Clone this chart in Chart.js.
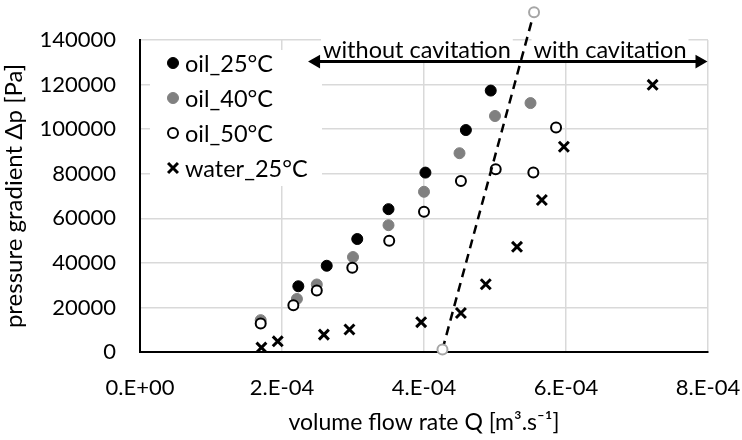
<!DOCTYPE html>
<html>
<head>
<meta charset="utf-8">
<script src="https://cdn.jsdelivr.net/npm/chart.js@4.4.1/dist/chart.umd.min.js"></script>
<style>
  html, body { margin: 0; padding: 0; background: #fff; }
</style>
</head>
<body>
<canvas id="myChart" width="742" height="440"></canvas>
<script>
// values (Q in m3/s, dp in Pa)
const oil25Q = [2.23e-4, 2.63e-4, 3.06e-4, 3.50e-4, 4.02e-4, 4.59e-4, 4.94e-4]
const oil25P = [29500, 38700, 50700, 64100, 80500, 99600, 117300]
const oil40Q = [1.70e-4, 2.21e-4, 2.49e-4, 3.00e-4, 3.50e-4, 4.00e-4, 4.50e-4, 5.00e-4, 5.50e-4]
const oil40P = [14300, 23800, 30300, 42600, 56900, 71900, 89200, 105900, 111700]
const oil50Q = [1.70e-4, 2.16e-4, 2.49e-4, 2.99e-4, 3.51e-4, 4.00e-4, 4.52e-4, 5.01e-4, 5.54e-4, 5.86e-4]
const oil50P = [12800, 21000, 27600, 37800, 49900, 62900, 76700, 82000, 80500, 100700]
const waterQ = [1.71e-4, 1.94e-4, 2.59e-4, 2.95e-4, 3.96e-4, 4.52e-4, 4.87e-4, 5.31e-4, 5.66e-4, 5.97e-4, 7.22e-4]
const waterP = [2000, 4800, 7800, 10100, 13400, 17500, 30400, 47200, 68200, 92100, 119900]
// cavitation boundary (dashed line)
const boundaryQ = [4.26e-4, 5.55e-4]
const boundaryP = [1100, 152400]
// double arrow + region labels
const arrowQ = [2.48e-4, 7.88e-4]
const arrowP = [130300, 130300]
const regionLabels = ['without cavitation', 'with cavitation']
const regionQ = [3.90e-4, 6.62e-4]
const regionP = [135400, 135400]
const xTicks = [0, 2e-4, 4e-4, 6e-4, 8e-4]
const yTicks = [0, 20000, 40000, 60000, 80000, 100000, 120000, 140000]

const FONT = 'Lato, "Open Sans", sans-serif'

function pts(xs, ys) {
    return xs.map((x, i) => ({x: x, y: ys[i]}))
}

function sciLabel(v) {
    if (Math.abs(v) < 1e-12) return '0.E+00'
    let e = Math.floor(Math.log10(Math.abs(v)) + 1e-9)
    let m = Math.round(v / Math.pow(10, e))
    if (m >= 10) { m = m / 10; e++ }
    return m + '.E' + (e < 0 ? '-' : '+') + String(Math.abs(e)).padStart(2, '0')
}

function marker(ctx, d, x, y) {
    ctx.fillStyle = d.pointBackgroundColor
    ctx.strokeStyle = d.pointBorderColor
    ctx.lineWidth = d.pointBorderWidth
    Chart.helpers.drawPoint(ctx, {pointStyle: d.pointStyle, rotation: 0, radius: d.pointRadius, borderWidth: d.pointBorderWidth}, x, y)
}

// white-boxed texts and legend, drawn over the grid but under the marks
const overlayPlugin = {
    id: 'overlay',
    beforeDatasetsDraw(chart) {
        const ctx = chart.ctx
        const xs = chart.scales.x, ys = chart.scales.y
        ctx.save()
        ctx.font = '23.5px ' + FONT
        ctx.textBaseline = 'middle'
        ctx.textAlign = 'center'
        regionLabels.forEach((t, i) => {
            const px = xs.getPixelForValue(regionQ[i])
            const py = ys.getPixelForValue(regionP[i])
            const w = ctx.measureText(t).width
            ctx.fillStyle = '#fff'
            ctx.fillRect(px - w / 2 - 2, py - 12, w + 4, 22)
            ctx.fillStyle = '#000'
            ctx.fillText(t, px, py)
        })

        // legend box
        const area = chart.chartArea
        const items = chart.data.datasets.filter(d => d.inLegend).sort((a, b) => b.order - a.order)
        const bx = area.left + 10, by = area.top + 10
        ctx.fillStyle = '#fff'
        ctx.fillRect(bx, by, 172, 136)
        ctx.textAlign = 'left'
        ctx.font = '23.5px ' + FONT
        items.forEach((d, i) => {
            const cy = by + 13 + i * 35
            const cx = bx + 23
            marker(ctx, d, cx, cy)
            ctx.fillStyle = '#000'
            ctx.fillText(d.label, cx + 12, cy + 1)
        })
        ctx.restore()
    },
    // Chart.js skips points outside the chart area; draw those of unclipped sets here
    afterDatasetsDraw(chart) {
        const ctx = chart.ctx
        const area = chart.chartArea
        ctx.save()
        chart.data.datasets.forEach((d, i) => {
            if (d.clip !== false) return
            chart.getDatasetMeta(i).data.forEach(p => {
                if (p.y < area.top || p.y > area.bottom || p.x < area.left || p.x > area.right) {
                    marker(ctx, d, p.x, p.y)
                }
            })
        })
        ctx.restore()
    }
}

const chart = new Chart(document.getElementById('myChart').getContext('2d'), {
    type: 'scatter',
    data: {
        datasets: [
            {
                label: 'cavitation boundary',
                type: 'line',
                data: pts(boundaryQ, boundaryP),
                borderColor: '#000',
                borderWidth: 2.5,
                borderDash: [9, 6],
                pointStyle: 'circle',
                pointRadius: 5,
                pointBackgroundColor: '#fff',
                pointBorderColor: '#a6a6a6',
                pointBorderWidth: 2,
                clip: false,
                order: 0
            },
            {
                label: 'arrow',
                type: 'line',
                data: pts(arrowQ, arrowP),
                borderColor: '#000',
                borderWidth: 3,
                pointStyle: 'triangle',
                pointRotation: [-90, 90],
                pointRadius: 8,
                pointBackgroundColor: '#000',
                pointBorderColor: '#000',
                pointBorderWidth: 0,
                order: 0
            },
            {
                label: 'water_25°C',
                inLegend: true,
                data: pts(waterQ, waterP),
                pointStyle: 'crossRot',
                pointRadius: 7,
                pointBackgroundColor: '#000',
                pointBorderColor: '#000',
                pointBorderWidth: 3,
                order: 1
            },
            {
                label: 'oil_50°C',
                inLegend: true,
                data: pts(oil50Q, oil50P),
                pointStyle: 'circle',
                pointRadius: 5,
                pointBackgroundColor: '#fff',
                pointBorderColor: '#000',
                pointBorderWidth: 2,
                order: 2
            },
            {
                label: 'oil_40°C',
                inLegend: true,
                data: pts(oil40Q, oil40P),
                pointStyle: 'circle',
                pointRadius: 5.5,
                pointBackgroundColor: '#808080',
                pointBorderColor: '#808080',
                pointBorderWidth: 1,
                order: 3
            },
            {
                label: 'oil_25°C',
                inLegend: true,
                data: pts(oil25Q, oil25P),
                pointStyle: 'circle',
                pointRadius: 5.5,
                pointBackgroundColor: '#000',
                pointBorderColor: '#000',
                pointBorderWidth: 1,
                order: 4
            }
        ]
    },
    options: {
        responsive: false,
        animation: false,
        devicePixelRatio: 1,
        layout: { padding: { top: 40, right: 34, left: 0, bottom: 0 } },
        plugins: {
            legend: { display: false },
            tooltip: { enabled: false }
        },
        scales: {
            x: {
                type: 'linear',
                min: 0,
                max: 8e-4,
                afterBuildTicks: s => { s.ticks = xTicks.map(v => ({value: v})) },
                afterFit: s => { s.height = 88; s.paddingLeft = 0; s.paddingRight = 0 },
                grid: { color: '#d9d9d9', lineWidth: 1.5, drawTicks: false },
                border: { color: '#000', width: 2 },
                ticks: {
                    color: '#000',
                    font: { family: FONT, size: 22 },
                    padding: 23,
                    maxRotation: 0,
                    callback: v => sciLabel(v)
                },
                title: {
                    display: true,
                    text: 'volume flow rate Q [m³.s⁻¹]',
                    color: '#000',
                    font: { family: FONT, size: 23 },
                    padding: { top: 0, bottom: 4 }
                }
            },
            y: {
                type: 'linear',
                min: 0,
                max: 140000,
                afterBuildTicks: s => { s.ticks = yTicks.map(v => ({value: v})) },
                afterFit: s => { s.width = 140; s.paddingTop = 0; s.paddingBottom = 0 },
                grid: { color: '#d9d9d9', lineWidth: 1.5, drawTicks: false },
                border: { color: '#000', width: 2 },
                ticks: {
                    color: '#000',
                    font: { family: FONT, size: 22 },
                    padding: 24,
                    callback: v => String(v)
                },
                title: {
                    display: true,
                    text: 'pressure gradient Δp [Pa]',
                    color: '#000',
                    font: { family: FONT, size: 24 },
                    padding: { top: 0, bottom: 0 }
                }
            }
        }
    },
    plugins: [overlayPlugin]
})
</script>
</body>
</html>
